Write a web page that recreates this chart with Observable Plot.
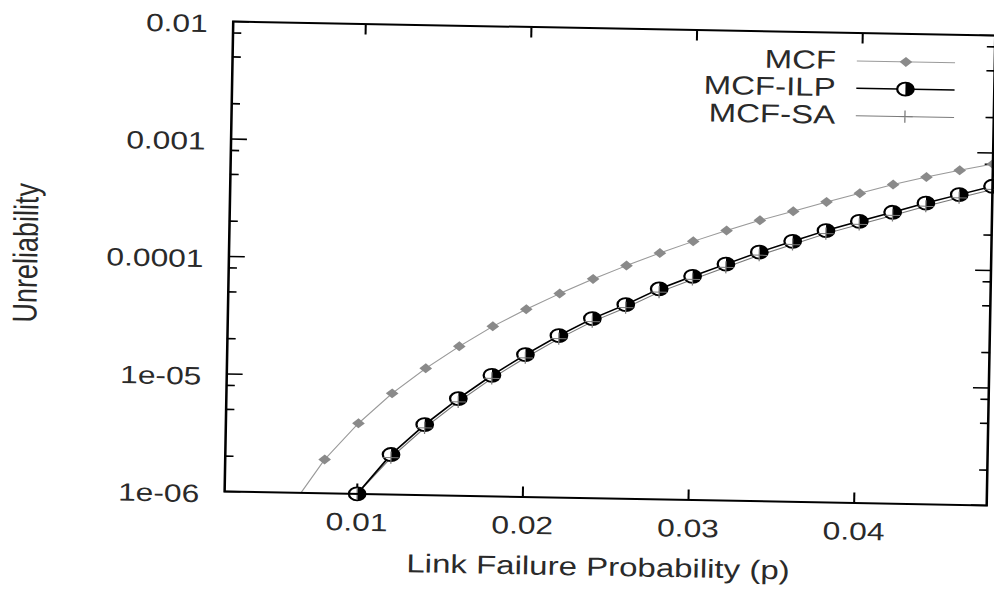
<!DOCTYPE html>
<html><head><meta charset="utf-8">
<script src="https://cdn.jsdelivr.net/npm/d3@7"></script>
<script src="https://cdn.jsdelivr.net/npm/@observablehq/plot@0.6"></script>
<style>
html,body{margin:0;padding:0;background:#fff;overflow:hidden;}
#chart{width:994px;height:589px;position:relative;overflow:hidden;background:#fff;}
</style></head><body><div id="chart"></div>
<script>
// ---- data ----
const pMCF = [0.006,0.008,0.010,0.012,0.014,0.016,0.018,0.020,0.022,0.024,0.026,0.028,0.030,0.032,0.034,0.036,0.038,0.040,0.042,0.044,0.046,0.048];
const mcf  = [7.5e-7,1.94e-6,3.99e-6,7.26e-6,1.20e-5,1.87e-5,2.80e-5,3.96e-5,5.45e-5,7.34e-5,9.66e-5,1.25e-4,1.59e-4,1.99e-4,2.46e-4,2.97e-4,3.61e-4,4.33e-4,5.20e-4,6.10e-4,7.04e-4,8.06e-4];
const pILP = [0.010,0.012,0.014,0.016,0.018,0.020,0.022,0.024,0.026,0.028,0.030,0.032,0.034,0.036,0.038,0.040,0.042,0.044,0.046,0.048];
const ilp  = [1.0e-6,2.19e-6,3.98e-6,6.70e-6,1.07e-5,1.63e-5,2.39e-5,3.38e-5,4.50e-5,6.18e-5,8.02e-5,1.03e-4,1.32e-4,1.65e-4,2.06e-4,2.50e-4,3.02e-4,3.66e-4,4.37e-4,5.21e-4];
const sa   = [1.0e-6,2.06e-6,3.74e-6,6.30e-6,1.01e-5,1.53e-5,2.25e-5,3.18e-5,4.23e-5,5.81e-5,7.54e-5,9.68e-5,1.24e-4,1.55e-4,1.94e-4,2.35e-4,2.84e-4,3.44e-4,4.11e-4,4.90e-4];

const seriesNames = ["MCF", "MCF-ILP", "MCF-SA"];
const xTicks = [0.01, 0.02, 0.03, 0.04];
const xTickLabels = ["0.01", "0.02", "0.03", "0.04"];
const yTicks = [1e-6, 1e-5, 1e-4, 1e-3, 1e-2];
const yTickLabels = ["1e-06", "1e-05", "0.0001", "0.001", "0.01"];
const yMinorTicks = [2e-6,5e-6,8e-6,2e-5,5e-5,8e-5,2e-4,5e-4,8e-4,2e-3,5e-3,8e-3];
const xTitle = "Link Failure Probability (p)";
const yTitle = "Unreliability";

// ---- build tables ----
const mcfData = pMCF.map((p, i) => ({p, v: mcf[i]}));
const ilpData = pILP.map((p, i) => ({p, v: ilp[i]}));
const saData  = pILP.map((p, i) => ({p, v: sa[i]}));
const xLab = new Map(xTicks.map((d, i) => [d, xTickLabels[i]]));
const yLab = new Map(yTicks.map((d, i) => [d, yTickLabels[i]]));

// ---- custom symbols ----
const halfRight = {draw(ctx, size) { const r = Math.sqrt(size / Math.PI); ctx.moveTo(0, -r); ctx.arc(0, 0, r, -Math.PI / 2, Math.PI / 2); ctx.closePath(); }};
const hLine = {draw(ctx, size) { const r = Math.sqrt(size / Math.PI); ctx.moveTo(-r, 0); ctx.lineTo(r, 0); }};

const W = 783, H = 589, OUTW = 994;
const GRAY_LINE = "#9a9a9a", GRAY_DOT = "#8a8a8a", SA_GRAY = "#7a7a7a";
const TEXT = "#2a2a2a";
const legendDy = [28, 55.3, 82.8];

function legendMarks(i) {
  const dy = legendDy[i];
  const marks = [
    Plot.text([seriesNames[i]], {frameAnchor: "top-right", dx: -125, dy, textAnchor: "end", lineAnchor: "middle", fontSize: 26, fill: TEXT})
  ];
  if (i === 0) {
    marks.push(Plot.dot([0], {frameAnchor: "top-right", dx: -70, dy, symbol: hLine, r: 38.7, fill: "none", stroke: GRAY_LINE, strokeWidth: 1}));
    marks.push(Plot.dot([0], {frameAnchor: "top-right", dx: -70, dy, symbol: "diamond2", r: 4.5, fill: GRAY_DOT, stroke: "none"}));
  } else if (i === 1) {
    marks.push(Plot.dot([0], {frameAnchor: "top-right", dx: -70, dy, symbol: hLine, r: 38.7, fill: "none", stroke: "black", strokeWidth: 1.5}));
    marks.push(Plot.dot([0], {frameAnchor: "top-right", dx: -70, dy, r: 6.5, fill: "white", stroke: "black", strokeWidth: 1.8}));
    marks.push(Plot.dot([0], {frameAnchor: "top-right", dx: -70, dy, symbol: halfRight, r: 6.5, fill: "black", stroke: "none"}));
  } else {
    marks.push(Plot.dot([0], {frameAnchor: "top-right", dx: -70, dy, symbol: hLine, r: 38.7, fill: "none", stroke: SA_GRAY, strokeWidth: 1}));
    marks.push(Plot.dot([0], {frameAnchor: "top-right", dx: -70, dy, symbol: "plus", r: 4, fill: "none", stroke: SA_GRAY, strokeWidth: 1}));
  }
  return marks;
}

const svg = Plot.plot({
  width: W, height: H,
  marginLeft: 179.8, marginRight: 2.8, marginTop: 28, marginBottom: 91,
  style: {fontFamily: "'Liberation Sans', Arial, Helvetica, sans-serif", fontSize: "25px", color: TEXT, background: "white"},
  x: {type: "linear", domain: [0.002, 0.048]},
  y: {type: "log", domain: [1e-6, 1e-2]},
  marks: [
    // axes: labels
    Plot.axisY(yTicks, {anchor: "left", tickSize: 0, tickPadding: 20, dy: 3, tickFormat: d => yLab.get(d), label: null}),
    Plot.axisX(xTicks, {anchor: "bottom", tickSize: 0, tickPadding: 19, tickFormat: d => xLab.get(d), label: null}),
    // inward ticks
    Plot.axisY(yTicks, {anchor: "left", tickSize: -13, stroke: "black", strokeWidth: 1.6, tickFormat: () => "", label: null}),
    Plot.axisY(yTicks, {anchor: "right", tickSize: -13, stroke: "black", strokeWidth: 1.6, tickFormat: () => "", label: null}),
    Plot.axisY(yMinorTicks, {anchor: "left", tickSize: -7, stroke: "black", strokeWidth: 1.6, tickFormat: () => "", label: null}),
    Plot.axisY(yMinorTicks, {anchor: "right", tickSize: -7, stroke: "black", strokeWidth: 1.6, tickFormat: () => "", label: null}),
    Plot.axisX(xTicks, {anchor: "bottom", tickSize: -10, stroke: "black", strokeWidth: 1.6, tickFormat: () => "", label: null}),
    Plot.axisX(xTicks, {anchor: "top", tickSize: -10, stroke: "black", strokeWidth: 1.6, tickFormat: () => "", label: null}),
    // titles
    Plot.text([xTitle], {frameAnchor: "bottom", dx: -5, dy: 69, textAnchor: "middle", lineAnchor: "middle", fontSize: 26, fill: TEXT}),
    Plot.text([yTitle], {frameAnchor: "left", dx: -159.5, rotate: -90, textAnchor: "middle", lineAnchor: "middle", fontSize: 27, fill: TEXT}),
    // series lines
    Plot.line(mcfData, {x: "p", y: "v", stroke: GRAY_LINE, strokeWidth: 1, clip: true}),
    Plot.line(saData, {x: "p", y: "v", stroke: SA_GRAY, strokeWidth: 1, clip: true}),
    Plot.line(ilpData, {x: "p", y: "v", stroke: "black", strokeWidth: 1.5, clip: true}),
    // markers
    Plot.dot(mcfData, {x: "p", y: "v", symbol: "diamond2", r: 4.5, fill: GRAY_DOT, stroke: "none", filter: d => d.v >= 1e-6}),
    Plot.dot(ilpData, {x: "p", y: "v", r: 6.5, fill: "white", stroke: "black", strokeWidth: 1.8}),
    Plot.dot(ilpData, {x: "p", y: "v", symbol: halfRight, r: 6.5, fill: "black", stroke: "none"}),
    Plot.dot(saData, {x: "p", y: "v", symbol: "plus", r: 4, fill: "none", stroke: SA_GRAY, strokeWidth: 1}),
    // legend
    ...legendMarks(0), ...legendMarks(1), ...legendMarks(2),
    // frame
    Plot.frame({stroke: "black", strokeWidth: 2})
  ]
});

// the scanned figure is stretched horizontally and slightly rotated
svg.setAttribute("viewBox", `0 0 ${W} ${H}`);
svg.setAttribute("width", OUTW);
svg.setAttribute("height", H);
svg.setAttribute("preserveAspectRatio", "none");
svg.style.width = OUTW + "px";
svg.style.height = H + "px";
svg.style.maxWidth = "none";
svg.style.overflow = "visible";
svg.style.transformOrigin = "609.7px 262.2px";
svg.style.transform = "rotate(1.05deg)";
document.getElementById("chart").appendChild(svg);
</script>
</body></html>
